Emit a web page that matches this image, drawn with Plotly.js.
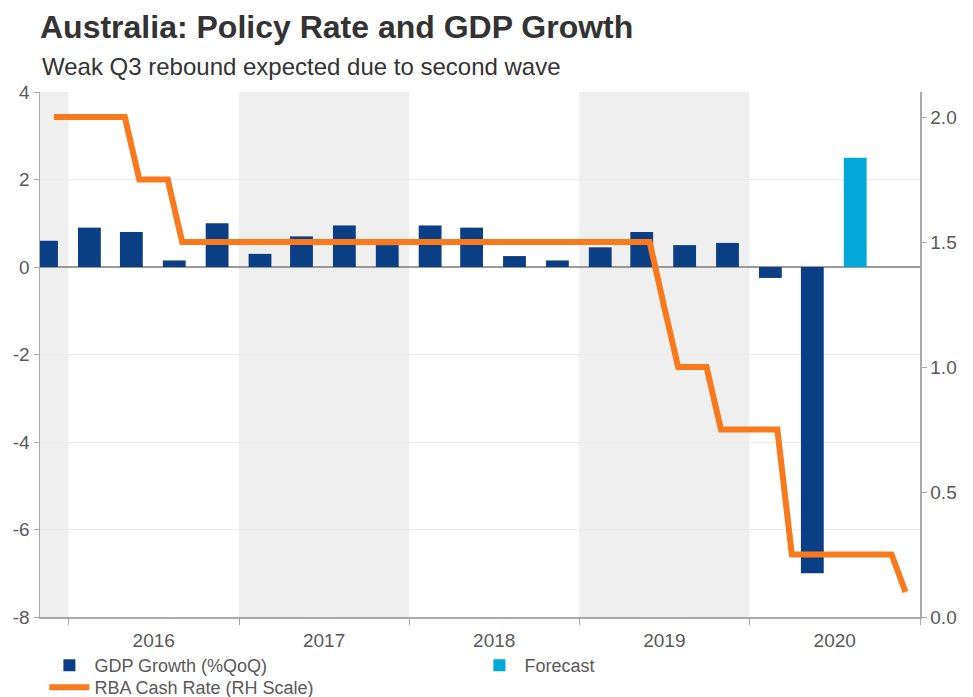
<!DOCTYPE html>
<html>
<head>
<meta charset="utf-8">
<script src="https://cdn.plot.ly/plotly-3.0.1.min.js"></script>
<style>
html,body{margin:0;padding:0;background:#fff;}
#chart{width:973px;height:697px;}
</style>
</head>
<body>
<div id="chart"></div>
<script>
// GDP growth, quarterly (% QoQ), plotted at mid-quarter
var gdpQuarters = ["2015-11-15","2016-02-15","2016-05-15","2016-08-15","2016-11-15",
  "2017-02-15","2017-05-15","2017-08-15","2017-11-15",
  "2018-02-15","2018-05-15","2018-08-15","2018-11-15",
  "2019-02-15","2019-05-15","2019-08-15","2019-11-15",
  "2020-02-15","2020-05-15"];
var gdpGrowth = [0.6, 0.9, 0.8, 0.15, 1.0,
  0.3, 0.7, 0.95, 0.5,
  0.95, 0.9, 0.25, 0.15,
  0.45, 0.8, 0.5, 0.55,
  -0.25, -7.0];
var forecastQuarters = ["2020-08-15"];
var forecastGrowth = [2.5];

// RBA cash rate, monthly
var rateMonths = ["2015-12","2016-01","2016-02","2016-03","2016-04","2016-05","2016-06","2016-07","2016-08","2016-09","2016-10","2016-11","2016-12",
  "2017-01","2017-02","2017-03","2017-04","2017-05","2017-06","2017-07","2017-08","2017-09","2017-10","2017-11","2017-12",
  "2018-01","2018-02","2018-03","2018-04","2018-05","2018-06","2018-07","2018-08","2018-09","2018-10","2018-11","2018-12",
  "2019-01","2019-02","2019-03","2019-04","2019-05","2019-06","2019-07","2019-08","2019-09","2019-10","2019-11","2019-12",
  "2020-01","2020-02","2020-03","2020-04","2020-05","2020-06","2020-07","2020-08","2020-09","2020-10","2020-11","2020-12"];
var cashRate = [2.0, 2.0,2.0,2.0,2.0,2.0,1.75,1.75,1.75,1.5,1.5,1.5,1.5,
  1.5,1.5,1.5,1.5,1.5,1.5,1.5,1.5,1.5,1.5,1.5,1.5,
  1.5,1.5,1.5,1.5,1.5,1.5,1.5,1.5,1.5,1.5,1.5,1.5,
  1.5,1.5,1.5,1.5,1.5,1.5,1.25,1.0,1.0,1.0,0.75,0.75,
  0.75,0.75,0.75,0.25,0.25,0.25,0.25,0.25,0.25,0.25,0.25,0.1];

// Axis ticks
var leftTickVals = [-8,-6,-4,-2,0,2,4];
var leftTickText = ["-8","-6","-4","-2","0","2","4"];
var rightTickVals = [0,0.5,1,1.5,2];
var rightTickText = ["0.0","0.5","1.0","1.5","2.0"];

// Shaded year bands
var shadedBands = [["2015-11-01","2016-01-01"],["2017-01-01","2018-01-01"],["2019-01-01","2020-01-01"]];

var barWidthMs = 49*24*3600*1000;
var navy = "#0a3f85", cyan = "#00a9d8", orange = "#f97a1c";
var fontFam = "Liberation Sans, Arial, sans-serif";
var grey = "#595959";

var traces = [
  {type:"bar", name:"GDP Growth (%QoQ)", x:gdpQuarters, y:gdpGrowth, width:barWidthMs,
   marker:{color:navy}, yaxis:"y", legend:"legend"},
  {type:"bar", name:"Forecast", x:forecastQuarters, y:forecastGrowth, width:barWidthMs,
   marker:{color:cyan}, yaxis:"y", legend:"legend"},
  {type:"scatter", mode:"lines", name:"RBA Cash Rate (RH Scale)", x:rateMonths, y:cashRate,
   line:{color:orange, width:6}, yaxis:"y2", legend:"legend2"}
];

var shapes = shadedBands.map(function(b){
  return {type:"rect", xref:"x", yref:"paper", x0:b[0], x1:b[1], y0:0, y1:1,
    fillcolor:"#efefef", line:{width:0}, layer:"below"};
});

var layout = {
  width:973, height:697,
  margin:{l:40, r:53, t:92, b:80, autoexpand:false},
  paper_bgcolor:"#fff", plot_bgcolor:"rgba(0,0,0,0)",
  font:{family:fontFam, color:grey, size:19},
  barmode:"overlay",
  title:{text:"<b>Australia: Policy Rate and GDP Growth</b>", x:40/973, xanchor:"left",
    y:1-27/697, yanchor:"middle", font:{family:fontFam, size:32, color:"#333"}},
  annotations:[{text:"Weak Q3 rebound expected due to second wave", xref:"paper", yref:"paper",
    x:0, xanchor:"left", y:(617-67)/525, yanchor:"middle", showarrow:false,
    font:{family:fontFam, size:24, color:"#333"}}],
  xaxis:{type:"date", range:["2015-11-01","2021-01-01"], dtick:"M12", tick0:"2016-01-01",
    ticklabelmode:"period", tickformat:"%Y", ticks:"outside", ticklen:6, tickcolor:"#aaa",
    showline:true, linecolor:"#aaa", linewidth:1.5, showgrid:false, zeroline:false,
    tickfont:{size:19, color:grey}},
  yaxis:{range:[-8,4], tickvals:leftTickVals, ticktext:leftTickText, ticks:"outside", ticklen:5, tickcolor:"#aaa",
    showline:true, linecolor:"#aaa", linewidth:1.5, showgrid:true, gridcolor:"#ececec",
    zeroline:true, zerolinecolor:"#999", zerolinewidth:1.5, tickfont:{size:19, color:grey}},
  yaxis2:{range:[0,2.1], overlaying:"y", side:"right", tickvals:rightTickVals, ticktext:rightTickText,
    ticks:"outside", ticklen:5, tickcolor:"#aaa",
    showline:true, linecolor:"#aaa", linewidth:1.5, showgrid:false, zeroline:false,
    tickfont:{size:19, color:grey}},
  shapes:shapes,
  showlegend:true,
  legend:{orientation:"h", x:0.005, xanchor:"left", y:-0.057, yanchor:"top",
    entrywidth:375, entrywidthmode:"pixels", traceorder:"normal",
    font:{size:18, color:grey}, bgcolor:"rgba(0,0,0,0)", itemwidth:40},
  legend2:{orientation:"h", x:0.005, xanchor:"left", y:-0.099, yanchor:"top",
    font:{size:18, color:grey}, bgcolor:"rgba(0,0,0,0)", itemwidth:40}
};

Plotly.newPlot("chart", traces, layout, {displayModeBar:false, staticPlot:true});
</script>
</body>
</html>
